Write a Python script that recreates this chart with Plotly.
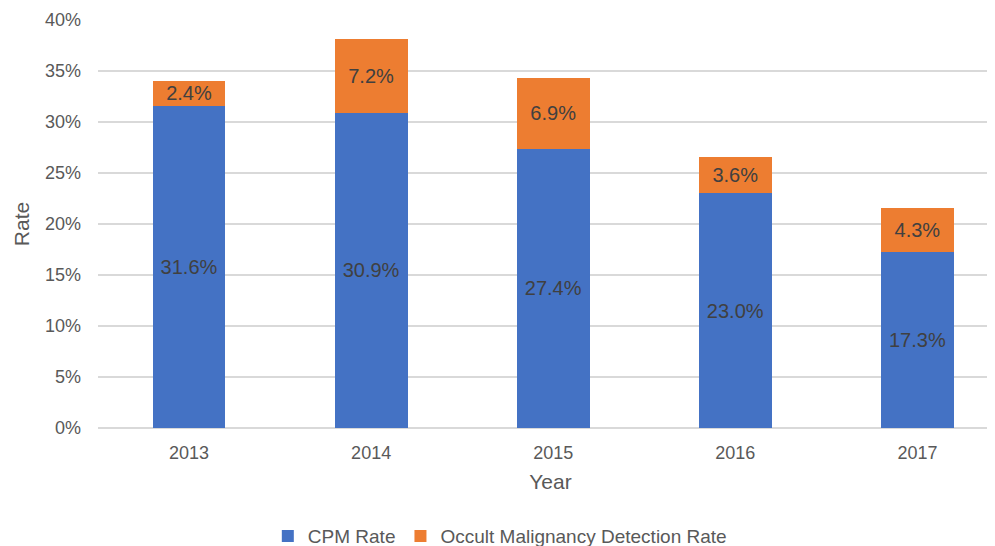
import plotly.graph_objects as go

# data
YEARS = ["2013", "2014", "2015", "2016", "2017"]
CPM_RATE = [31.6, 30.9, 27.4, 23.0, 17.3]
OCCULT_RATE = [2.4, 7.2, 6.9, 3.6, 4.3]
Y_TICKS = [0, 5, 10, 15, 20, 25, 30, 35, 40]

FONT = "Helvetica Neue, Liberation Sans, Arial, sans-serif"
LABEL_COLOR = "#404040"
TICK_COLOR = "#595959"

fig = go.Figure()

fig.add_trace(go.Bar(
    x=YEARS, y=CPM_RATE, name="CPM Rate",
    marker=dict(color="#4472c4", line=dict(width=0)),
    text=[f"{v:.1f}%" for v in CPM_RATE],
    textposition="inside", insidetextanchor="middle",
    textfont=dict(color=LABEL_COLOR, size=20, family=FONT),
))
fig.add_trace(go.Bar(
    x=YEARS, y=OCCULT_RATE, name="Occult Malignancy Detection Rate",
    marker=dict(color="#ed7d31", line=dict(width=0)),
    text=[f"{v:.1f}%" for v in OCCULT_RATE],
    textposition="inside", insidetextanchor="middle",
    textfont=dict(color=LABEL_COLOR, size=20, family=FONT),
))

# the page body adds an 8px margin, so the figure is laid out 8px up/left
fig.update_layout(
    barmode="stack", bargap=0.6,
    width=995, height=546,
    margin=dict(l=90, r=0, t=12, b=126, autoexpand=False),
    plot_bgcolor="white", paper_bgcolor="white",
    font=dict(family=FONT, color=TICK_COLOR, size=18),
    uniformtext=dict(minsize=19, mode="show"),
    legend=dict(orientation="h", x=0.444, xanchor="center", y=-0.265, yanchor="middle",
                font=dict(size=19, color=TICK_COLOR), traceorder="normal"),
)

fig.update_xaxes(
    range=[-0.5, 4.47], showgrid=False, showline=False, ticks="", automargin=False,
    tickfont=dict(size=18, color=TICK_COLOR), ticklabelstandoff=12,
    title=dict(text="Year", font=dict(size=21, color=TICK_COLOR), standoff=12),
)
fig.update_yaxes(
    range=[0, 40], tickvals=Y_TICKS, ticktext=[f"{t}%" for t in Y_TICKS], automargin=False,
    showgrid=True, gridcolor="#d9d9d9", gridwidth=1.5,
    zeroline=True, zerolinecolor="#d9d9d9", zerolinewidth=1.5,
    tickfont=dict(size=18, color=TICK_COLOR), ticks="", ticklabelstandoff=16,
    title=dict(text="Rate", font=dict(size=21, color=TICK_COLOR), standoff=9),
)

fig.write_html("out.html")
